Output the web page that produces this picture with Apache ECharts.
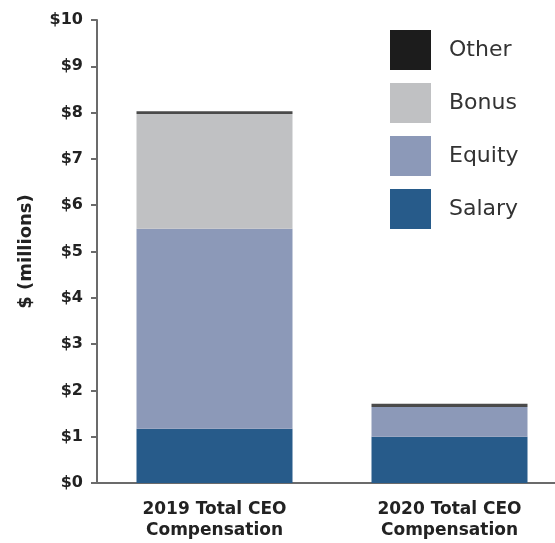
<!DOCTYPE html>
<html>
<head>
    <meta charset="utf-8">
    <title>CEO compensation</title>
    <script src="https://cdn.jsdelivr.net/npm/echarts@6/dist/echarts.min.js"></script>
    <style>
        html, body { margin: 0; padding: 0; background: #fff; overflow: hidden; }
    </style>
</head>
<body>
<!-- a bit wider than the window so the bars sit where the reference has them -->
<div id="main" style="width: 567px;height:543px;"></div>

<script type="text/javascript">
    // values in $ millions
    var categories = ['2019 Total CEO\nCompensation', '2020 Total CEO\nCompensation'];
    var salary = [1.17, 1.0];
    var equity = [4.32, 0.64];
    var bonus = [2.48, 0.0];
    var other = [0.06, 0.07];
    var yTicks = [0, 10, 1]; // min, max, step

    var myChart = echarts.init(document.getElementById('main'));

    var font = 'DejaVu Sans, sans-serif';

    function barSeries(name, data, color) {
        return {
            name: name,
            type: 'bar',
            stack: 'total',
            barWidth: 156,
            itemStyle: { color: color },
            data: data
        };
    }

    option = {
        animation: false,
        textStyle: { fontFamily: font },
        grid: { left: 97, right: 0, top: 20, bottom: 60, containLabel: false },
        legend: {
            orient: 'vertical',
            left: 385,
            top: 25,
            itemWidth: 41,
            itemHeight: 40,
            itemGap: 13,
            icon: 'rect',
            textStyle: { fontSize: 22, color: '#333', fontFamily: font, padding: [5, 0, 0, 13] },
            data: [
                { name: 'Other', itemStyle: { color: '#1c1c1c' } },
                'Bonus', 'Equity', 'Salary'
            ]
        },
        xAxis: {
            type: 'category',
            data: categories,
            axisLine: { lineStyle: { color: '#6b6b6b', width: 2 } },
            axisTick: { show: false },
            axisLabel: {
                color: '#222',
                fontSize: 17,
                fontWeight: 'bold',
                lineHeight: 21,
                margin: 16,
                fontFamily: font
            }
        },
        yAxis: {
            type: 'value',
            min: yTicks[0],
            max: yTicks[1],
            interval: yTicks[2],
            name: '$ (millions)',
            nameLocation: 'middle',
            nameGap: 62,
            nameTextStyle: { fontSize: 18, fontWeight: 'bold', color: '#222', fontFamily: font },
            axisLine: { show: true, lineStyle: { color: '#6b6b6b', width: 2 } },
            axisTick: { show: true, length: 6, lineStyle: { color: '#6b6b6b', width: 2 } },
            splitLine: { show: false },
            axisLabel: {
                color: '#222',
                fontSize: 16,
                fontWeight: 'bold',
                margin: 14,
                fontFamily: font,
                formatter: function (v) { return '$' + v; }
            }
        },
        series: [
            barSeries('Salary', salary, '#275b8a'),
            barSeries('Equity', equity, '#8c99b8'),
            barSeries('Bonus', bonus, '#c0c1c3'),
            barSeries('Other', other, '#4a4a4a')
        ]
    };

    myChart.setOption(option);
</script>
</body>
</html>
